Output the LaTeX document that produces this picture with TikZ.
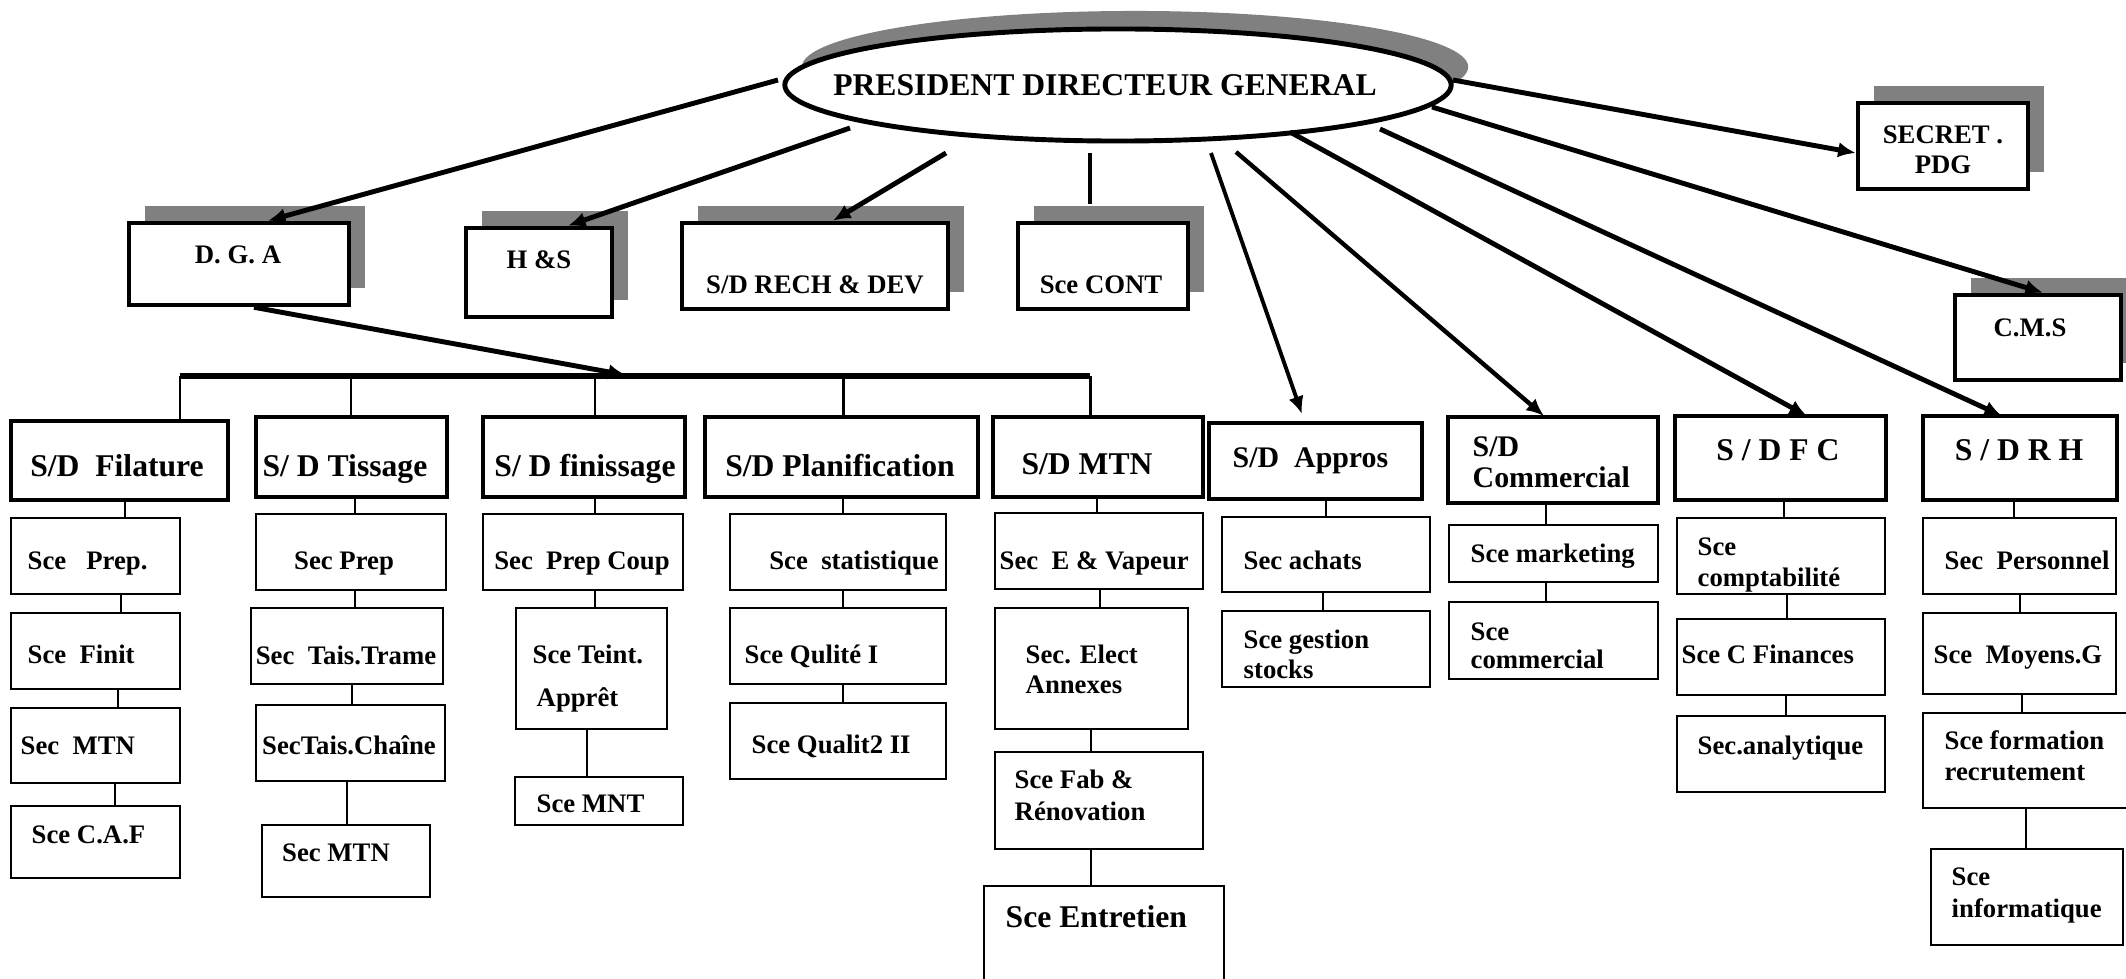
\documentclass[tikz,border=0pt]{standalone}
\usepackage{fontspec}
\setmainfont{Liberation Serif}
\usetikzlibrary{arrows.meta,shapes.geometric,shadows,calc}
\definecolor{shadowgray}{HTML}{808080}
\tikzset{
 thickbox/.style={draw, line width=1.3pt, fill=white, inner sep=0pt, rectangle},
 shbox/.style={thickbox, drop shadow={shadow xshift=0.16cm, shadow yshift=0.17cm, fill=shadowgray, opacity=1}},
 thinbox/.style={draw, line width=0.6pt, fill=white, inner sep=0pt, rectangle},
 conn/.style={line width=0.45pt},
 arr/.style={line width=1.4pt, -{Latex[length=5pt,width=4.4pt]}},
 arrthin/.style={line width=1.1pt, -{Latex[length=5pt,width=4.4pt]}},
 barline/.style={line width=1.7pt},
 dropline/.style={line width=0.85pt},
 lbl/.style={inner sep=0pt, anchor=base west, font=\bfseries\fontsize{7.6}{9}\selectfont},
 lblc/.style={lbl, anchor=base},
 big/.style={inner sep=0pt, anchor=base west, font=\bfseries\fontsize{9}{11}\selectfont},
 bigc/.style={big, anchor=base},
 mid/.style={inner sep=0pt, anchor=base west, font=\bfseries\fontsize{8.5}{10}\selectfont},
}
\newcommand\mybox[6][thinbox]{\node[#1, minimum width={(#4-#2)*0.01cm}, minimum height={(#5-#3)*0.01cm}] (#6) at ({(#2+#4)/2},{(#3+#5)/2}) {};}
\newcommand\myconn[3]{\draw[conn] (#1,0 |- #2.south) -- (#1,0 |- #3.north);}
\newcommand\mylab[5][lbl]{\node[#1] (#2) at (#3,#4) {#5};}
\begin{document}
\begin{tikzpicture}[x=0.01cm, y=-0.01cm]
\clip (0,0) rectangle (2126,979);
\fill[white] (0,0) rectangle (2126,979);
% PDG
\node[ellipse, draw, line width=1.4pt, fill=white, minimum width=6.66cm, minimum height=1.12cm, inner sep=0pt,
  drop shadow={shadow xshift=0.17cm, shadow yshift=0.18cm, fill=shadowgray, opacity=1}] (pdg) at (1118,85) {};
\node[inner sep=0pt, font=\bfseries\fontsize{9}{11}\selectfont] (lpdg) at (1105,85) {PRESIDENT DIRECTEUR GENERAL};
% top boxes
\mybox[shbox]{129}{223}{349}{305}{dga}
\mybox[shbox]{466}{228}{612}{317}{hs}
\mybox[shbox]{682}{223}{948}{309}{rech}
\mybox[shbox]{1018}{223}{1188}{309}{cont}
\mybox[shbox]{1858}{103}{2028}{189}{secret}
\mybox[shbox]{1955}{295}{2121}{380}{cms}
\mylab[lblc]{ldga}{238}{264}{D. G. A}
\mylab[lblc]{lhs}{539}{269}{H \&S}
\mylab[lblc]{lrech}{815}{294}{S/D RECH \& DEV}
\mylab[lblc]{lcont}{1101}{294}{Sce CONT}
\mylab[lblc]{lsec1}{1943}{144}{SECRET .}
\mylab[lblc]{lsec2}{1943}{174}{PDG}
\mylab[lblc]{lcms}{2030}{337}{C.M.S}
% S/D row
\mybox[thickbox]{11}{421}{228}{500}{fil}
\mybox[thickbox]{256}{417}{447}{497}{tis}
\mybox[thickbox]{483}{417}{685}{497}{fin}
\mybox[thickbox]{705}{417}{978}{497}{pla}
\mybox[thickbox]{993}{417}{1203}{497}{mtn}
\mybox[thickbox]{1209}{423}{1422}{499}{app}
\mybox[thickbox]{1448}{417}{1658}{503}{com}
\mybox[thickbox]{1675}{416}{1886}{500}{dfc}
\mybox[thickbox]{1923}{416}{2117}{500}{drh}
\mylab[bigc]{lfil}{117}{476}{S/D\ \ Filature}
\mylab[bigc]{ltis}{345}{476}{S/ D Tissage}
\mylab[bigc]{lfin}{585}{476}{S/ D finissage}
\mylab[bigc]{lpla}{840}{476}{S/D Planification}
\mylab[bigc]{lmtn}{1087}{475}{S/D MTN}
\mylab[mid]{lapp}{1232}{468}{S/D\ \ Appros}
\mylab[mid]{lcom1}{1472}{457}{S/D}
\mylab[mid]{lcom2}{1472}{488}{Commercial}
\mylab[bigc]{ldfc}{1778}{461}{S / D F C}
\mylab[bigc]{ldrh}{2019}{461}{S / D R H}
% Filature column
\mybox{11}{518}{180}{594}{f1}
\mybox{11}{613}{180}{689}{f2}
\mybox{11}{708}{180}{783}{f3}
\mybox{11}{806}{180}{878}{f4}
\mylab{lf1}{27}{570}{Sce\ \ \ Prep.}
\mylab{lf2}{27}{663}{Sce\ \ Finit}
\mylab{lf3}{20}{754}{Sec\ \ MTN}
\mylab{lf4}{31}{843}{Sce C.A.F}
\myconn{125}{fil}{f1}
\myconn{121}{f1}{f2}
\myconn{118}{f2}{f3}
\myconn{115}{f3}{f4}
% Tissage column
\mybox{256}{514}{446}{590}{t1}
\mybox{251}{608}{443}{684}{t2}
\mybox{256}{705}{445}{781}{t3}
\mybox{262}{825}{430}{897}{t4}
\mylab[lblc]{lt1}{344}{570}{Sec Prep}
\mylab[lblc]{lt2}{346}{664}{Sec\ \ Tais.Trame}
\mylab[lblc]{lt3}{349}{754}{SecTais.Chaîne}
\mylab[lblc]{lt4}{336}{861}{Sec MTN}
\myconn{355}{tis}{t1}
\myconn{355}{t1}{t2}
\myconn{352}{t2}{t3}
\myconn{347}{t3}{t4}
% Finissage column
\mybox{483}{514}{683}{590}{n1}
\mybox{516}{608}{667}{729}{n2}
\mybox{515}{777}{683}{825}{n3}
\mylab[lblc]{ln1}{582}{570}{Sec\ \ Prep Coup}
\mylab{ln2a}{532}{663}{Sce Teint.}
\mylab{ln2b}{536}{706}{Apprêt}
\mylab{ln3}{536}{812}{Sce MNT}
\myconn{595}{fin}{n1}
\myconn{595}{n1}{n2}
\myconn{587}{n2}{n3}
% Planification column
\mybox{730}{514}{946}{590}{p1}
\mybox{730}{608}{946}{684}{p2}
\mybox{730}{703}{946}{779}{p3}
\mylab[lblc]{lp1}{854}{570}{Sce\ \ statistique}
\mylab{lp2}{744}{663}{Sce Qulité I}
\mylab{lp3}{751}{753}{Sce Qualit2 II}
\myconn{843}{pla}{p1}
\myconn{843}{p1}{p2}
\myconn{843}{p2}{p3}
% MTN column
\mybox{995}{513}{1203}{589}{m1}
\mybox{995}{608}{1188}{729}{m2}
\mybox{995}{752}{1203}{849}{m3}
\mybox{984}{886}{1224}{1000}{m4}
\mylab{lm1}{999}{570}{Sec\ \ E \& Vapeur}
\mylab{lm2a}{1025}{663}{Sec. Elect}
\mylab{lm2b}{1025}{693}{Annexes}
\mylab{lm3a}{1014}{788}{Sce Fab \&}
\mylab{lm3b}{1014}{820}{Rénovation}
\mylab[big]{lm4}{1005}{927}{Sce Entretien}
\myconn{1097}{mtn}{m1}
\myconn{1100}{m1}{m2}
\myconn{1091}{m2}{m3}
\myconn{1091}{m3}{m4}
% Appros column
\mybox{1222}{517}{1430}{592}{a1}
\mybox{1222}{611}{1430}{687}{a2}
\mylab{la1}{1243}{570}{Sec achats}
\mylab{la2a}{1243}{648}{Sce gestion}
\mylab{la2b}{1243}{678}{stocks}
\myconn{1326}{app}{a1}
\myconn{1323}{a1}{a2}
% Commercial column
\mybox{1449}{525}{1658}{582}{c1}
\mybox{1449}{602}{1658}{679}{c2}
\mylab{lc1}{1470}{562}{Sce marketing}
\mylab{lc2a}{1470}{640}{Sce}
\mylab{lc2b}{1470}{669}{commercial}
\myconn{1546}{com}{c1}
\myconn{1546}{c1}{c2}
% DFC column
\mybox{1677}{518}{1885}{594}{d1}
\mybox{1677}{619}{1885}{695}{d2}
\mybox{1677}{716}{1885}{792}{d3}
\mylab{ld1a}{1697}{555}{Sce}
\mylab{ld1b}{1697}{586}{comptabilité}
\mylab{ld2}{1681}{663}{Sce C Finances}
\mylab{ld3}{1697}{754}{Sec.analytique}
\myconn{1784}{dfc}{d1}
\myconn{1787}{d1}{d2}
\myconn{1786}{d2}{d3}
% DRH column
\mybox{1923}{518}{2116}{594}{r1}
\mybox{1923}{613}{2116}{694}{r2}
\mybox{1923}{713}{2135}{808}{r3}
\mybox{1931}{849}{2123}{945}{r4}
\mylab{lr1}{1944}{570}{Sec\ \ Personnel}
\mylab{lr2}{1933}{663}{Sce\ \ Moyens.G}
\mylab{lr3a}{1944}{749}{Sce formation}
\mylab{lr3b}{1944}{780}{recrutement}
\mylab{lr4a}{1951}{885}{Sce}
\mylab{lr4b}{1951}{917}{informatique}
\myconn{2014}{drh}{r1}
\myconn{2020}{r1}{r2}
\myconn{2022}{r2}{r3}
\myconn{2026}{r3}{r4}
% bar under DGA
\coordinate (barL) at (180,376);
\coordinate (barR) at (1090,376);
\draw[barline] (barL) -- (barR);
\draw[dropline] (barL) -- (barL |- fil.north);
\draw[dropline] (351,0 |- barL) -- (351,0 |- tis.north);
\draw[dropline] (595,0 |- barL) -- (595,0 |- fin.north);
\draw[dropline] (843,0 |- barL) -- (843,0 |- pla.north);
\draw[dropline] (barR) -- (barR |- mtn.north);
\draw[arr, shorten >=0.05cm] (254,0 |- dga.south) -- (631,0 |- barL);
% arrows from PDG
\coordinate (sdga) at (778,80);
\coordinate (shs) at (850,128);
\coordinate (srech) at (946,153);
\coordinate (scont) at (1090,153);
\coordinate (sapp) at (1211,153);
\coordinate (scom) at (1236,152);
\coordinate (sdfc) at (1290,132);
\coordinate (sdrh) at (1380,129);
\coordinate (scms) at (1432,107);
\coordinate (ssec) at (1453,80);
\draw[arr] (sdga) -- (268,0 |- dga.north);
\draw[arr] (shs) -- (568,0 |- hs.north);
\draw[arr] (srech) -- (833,0 |- rech.north);
\draw[line width=1.4pt, shorten >=0.17cm] (scont) -- (scont |- cont.north);
\draw[arrthin] (sapp) -- (1302,414);
\draw[arr, line width=1.25pt] (scom) -- (1544,416);
\draw[arr] (sdfc) -- (1807,416);
\draw[arr] (sdrh) -- (2002,416);
\draw[arr] (scms) -- (2043,0 |- cms.north);
\draw[arr] (ssec) -- ($(secret.west)+(0,7)$);
\end{tikzpicture}
\end{document}
